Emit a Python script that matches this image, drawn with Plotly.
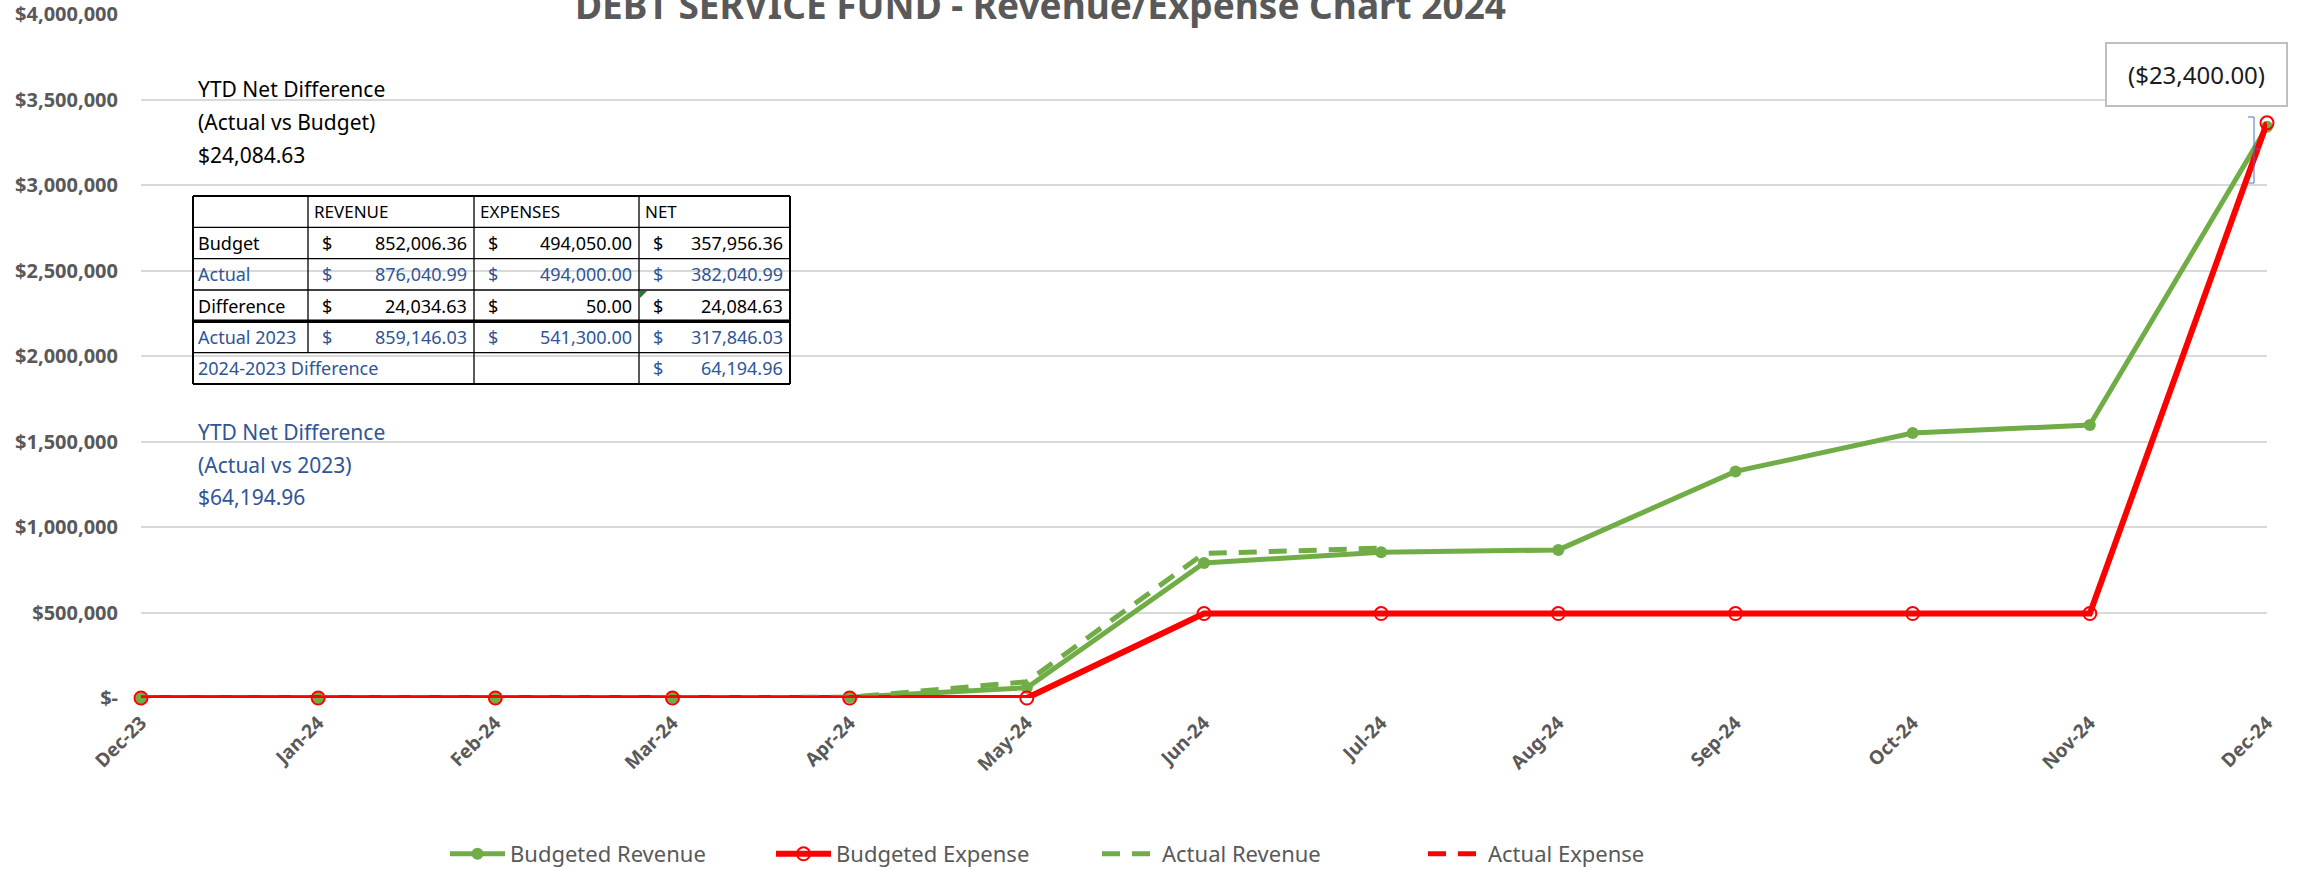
import plotly.graph_objects as go

# ---------------- data ----------------
months = ["Dec-23", "Jan-24", "Feb-24", "Mar-24", "Apr-24", "May-24", "Jun-24",
          "Jul-24", "Aug-24", "Sep-24", "Oct-24", "Nov-24", "Dec-24"]
budgeted_revenue = [0, 0, 0, 2000, 4000, 60000, 790000, 852006.36, 866000,
                    1325000, 1550000, 1596000, 3340000]
budgeted_expense = [0, 0, 0, 0, 0, 0, 494050, 494050, 494050, 494050, 494050,
                    494050, 3363400]
actual_revenue = [0, 0, 0, 0, 4000, 95000, 845000, 876040.99,
                  None, None, None, None, None]
actual_expense = [0, 0, 0, 0, 0, 0, 494000, 494000,
                  None, None, None, None, None]

y_tickvals = [0, 500000, 1000000, 1500000, 2000000, 2500000, 3000000, 3500000, 4000000]
y_ticktext = ["$-", "$500,000", "$1,000,000", "$1,500,000", "$2,000,000",
              "$2,500,000", "$3,000,000", "$3,500,000", "$4,000,000"]

title_text = "DEBT SERVICE FUND - Revenue/Expense Chart 2024"
callout_text = "($23,400.00)"

table_row_labels = ["Budget", "Actual", "Difference", "Actual 2023", "2024-2023 Difference"]
table_col_labels = ["REVENUE", "EXPENSES", "NET"]
table_revenue = [852006.36, 876040.99, 24034.63, 859146.03, None]
table_expenses = [494050.00, 494000.00, 50.00, 541300.00, None]
table_net = [357956.36, 382040.99, 24084.63, 317846.03, 64194.96]

budget_note = ["YTD Net Difference", "(Actual vs Budget)", "$24,084.63"]
prior_note = ["YTD Net Difference", "(Actual vs 2023)", "$64,194.96"]

# ---------------- style ----------------
W, H = 2297, 871
L, R, T, B = 141, 2267, 14, 698
FONT = "Noto Sans"
GRAY = "#595959"
GREEN = "#70AD47"
RED = "#FF0000"
BLUE = "#2F5597"


def px(x):
    return (x - L) / (R - L)


def py(y):
    return (B - y) / (B - T)


fig = go.Figure()
fig.add_trace(go.Scatter(
    x=months, y=budgeted_revenue, name="Budgeted Revenue", mode="lines+markers",
    line=dict(color=GREEN, width=5), marker=dict(color=GREEN, size=12),
    cliponaxis=False))
fig.add_trace(go.Scatter(
    x=months, y=budgeted_expense, name="Budgeted Expense", mode="lines+markers",
    line=dict(color=RED, width=6),
    marker=dict(color=RED, size=13, symbol="circle-open", line=dict(width=2, color=RED)),
    cliponaxis=False))
fig.add_trace(go.Scatter(
    x=months, y=actual_revenue, name="Actual Revenue", mode="lines",
    line=dict(color=GREEN, width=5, dash="18px,12px"), connectgaps=False,
    cliponaxis=False))
fig.add_trace(go.Scatter(
    x=months, y=actual_expense, name="Actual Expense", mode="lines",
    line=dict(color=RED, width=5, dash="18px,12px"), connectgaps=False,
    cliponaxis=False))

shapes = []
annotations = []

# title (partly cut off at top, as in reference)
annotations.append(dict(
    text="<b>" + title_text + "</b>", xref="paper", yref="paper",
    x=px(1040), y=py(4), xanchor="center", yanchor="middle", showarrow=False,
    font=dict(family=FONT, size=37, color=GRAY)))

# callout box
annotations.append(dict(
    text=callout_text, xref="paper", yref="paper", x=px(2196), y=py(74.5),
    xanchor="center", yanchor="middle", showarrow=False,
    font=dict(family=FONT, size=24, color="#1a1a1a"),
    bordercolor="#bfbfbf", borderwidth=2, borderpad=2, bgcolor="white",
    width=175, height=57))

# small blue bracket near Dec-24 point
bracket = "M {},{} L {},{} L {},{} L {},{} M {},{} L {},{}".format(
    px(2248), py(117), px(2254), py(117), px(2254), py(183), px(2248), py(183),
    px(2254), py(149), px(2260), py(149))
shapes.append(dict(type="path", xref="paper", yref="paper", path=bracket,
                   line=dict(color="#4472C4", width=1)))

# notes
for i, line in enumerate(budget_note):
    annotations.append(dict(text=line, xref="paper", yref="paper",
                            x=px(196), y=py([89, 122, 155][i]),
                            xanchor="left", yanchor="middle", showarrow=False,
                            font=dict(family=FONT, size=21, color="black")))
for i, line in enumerate(prior_note):
    annotations.append(dict(text=line, xref="paper", yref="paper",
                            x=px(196), y=py([432, 465, 497][i]),
                            xanchor="left", yanchor="middle", showarrow=False,
                            font=dict(family=FONT, size=21, color=BLUE)))

# table
cols = [193, 308, 474, 639, 790]
rows = [196 + i * 31.33 for i in range(7)]
row_colors = ["black", BLUE, "black", BLUE, BLUE]
TF = 18


def fmt(v):
    return "{:,.2f}".format(v)


for j, h in enumerate(table_col_labels):
    annotations.append(dict(text=h, xref="paper", yref="paper",
                            x=px(cols[j + 1] + 4), y=py((rows[0] + rows[1]) / 2),
                            xanchor="left", yanchor="middle", showarrow=False,
                            font=dict(family=FONT, size=TF - 1, color="black")))
for i, lab in enumerate(table_row_labels):
    yc = py((rows[i + 1] + rows[i + 2]) / 2)
    annotations.append(dict(text=lab, xref="paper", yref="paper", x=px(cols[0] + 3), y=yc,
                            xanchor="left", yanchor="middle", showarrow=False,
                            font=dict(family=FONT, size=TF, color=row_colors[i])))
    for j, series in enumerate([table_revenue, table_expenses, table_net]):
        v = series[i]
        if v is None:
            continue
        annotations.append(dict(text="$", xref="paper", yref="paper",
                                x=px(cols[j + 1] + 12), y=yc,
                                xanchor="left", yanchor="middle", showarrow=False,
                                font=dict(family=FONT, size=TF, color=row_colors[i])))
        annotations.append(dict(text=fmt(v), xref="paper", yref="paper",
                                x=px(cols[j + 2] - 5), y=yc,
                                xanchor="right", yanchor="middle", showarrow=False,
                                font=dict(family=FONT, size=TF, color=row_colors[i])))

for k, yv in enumerate(rows):
    wdt = 3.5 if k == 4 else (2 if k in (0, 6) else 1.3)
    shapes.append(dict(type="line", xref="paper", yref="paper",
                       x0=px(cols[0]), x1=px(cols[4]), y0=py(yv), y1=py(yv),
                       line=dict(color="black", width=wdt)))
for k, xv in enumerate(cols):
    y_end = rows[5] if k == 1 else rows[6]
    wdt = 2 if k in (0, 4) else 1.3
    shapes.append(dict(type="line", xref="paper", yref="paper",
                       x0=px(xv), x1=px(xv), y0=py(rows[0]), y1=py(y_end),
                       line=dict(color="black", width=wdt)))
# excel green error indicator
tri = "M {},{} L {},{} L {},{} Z".format(px(cols[3] + 1), py(rows[3] + 1),
                                         px(cols[3] + 8), py(rows[3] + 1),
                                         px(cols[3] + 1), py(rows[3] + 8))
shapes.append(dict(type="path", xref="paper", yref="paper", path=tri,
                   fillcolor="#1E7B34", line=dict(width=0)))

fig.update_layout(
    width=W, height=H,
    margin=dict(l=L, r=W - R, t=T, b=H - B, autoexpand=False),
    paper_bgcolor="white", plot_bgcolor="white",
    font=dict(family=FONT, color=GRAY),
    showlegend=True,
    legend=dict(orientation="h", x=px(445), y=py(854), xanchor="left", yanchor="middle",
                font=dict(family=FONT, size=22, color=GRAY),
                entrywidth=256, itemwidth=55, bgcolor="rgba(0,0,0,0)"),
    xaxis=dict(type="category", range=[0, 12], showgrid=False, zeroline=False,
               showline=False, ticks="", tickangle=-45, automargin=False,
               tickfont=dict(family=FONT, size=19, color=GRAY, weight="bold"),
               ticklabelstandoff=9),
    yaxis=dict(range=[0, 4000000], tickvals=y_tickvals, ticktext=y_ticktext,
               showgrid=True, gridcolor="#D9D9D9", gridwidth=2, zeroline=False,
               showline=False, ticks="", automargin=False,
               tickfont=dict(family=FONT, size=20, color=GRAY, weight="bold"),
               ticklabelstandoff=22),
    shapes=shapes, annotations=annotations,
)

fig.write_html(
    "out.html",
    config={"displayModeBar": False},
    post_script="document.body.style.margin='0';"
                "document.documentElement.style.overflow='hidden';")
